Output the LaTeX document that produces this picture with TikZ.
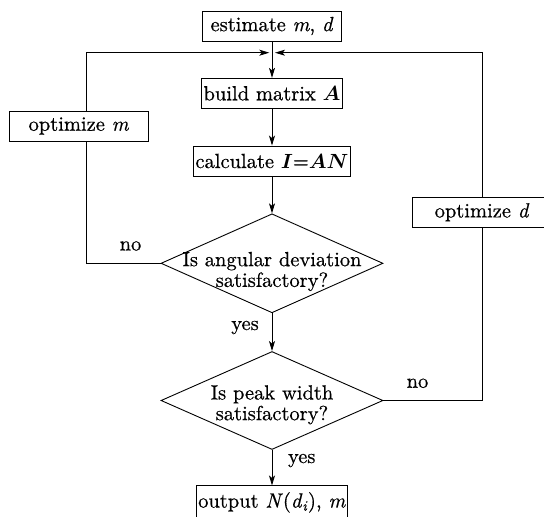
\RequirePackage{fix-cm}
\documentclass[tikz,border=0pt]{standalone}
\usepackage{bm}
\usepackage{fontspec}
\setmainfont{lmroman10-regular.otf}[FakeBold=0.6,ItalicFont=lmroman10-italic.otf,ItalicFeatures={FakeBold=0.6}]
\newcommand{\vr}[1]{\textit{#1}}
\usetikzlibrary{shapes.geometric,arrows.meta}
\begin{document}
\begin{tikzpicture}[x=1pt,y=-1pt,
    line width=0.9pt,
    every node/.style={font=\fontsize{20.5}{20.7}\selectfont},
    box/.style={draw,minimum width=139pt,minimum height=30pt,inner xsep=2pt,inner ysep=0pt},
    dia/.style={draw,diamond,minimum width=222pt,minimum height=99pt,inner sep=0pt},
    dtext/.style={align=center,inner sep=0pt},
    >={Stealth[length=10pt,width=6pt,inset=2.5pt]}]
      \useasboundingbox (0,0) rectangle (544,517);
      \draw
        (272,26) node[box] (est){estimate \vr{m}, \vr{d}}
        (272,93.3) node[box] (build){build matrix $\bm{A}$}
        (272,161) node[box,minimum width=153pt] (calc){calculate $\bm{I}$=$\bm{AN}$}
        (272,263.3) node[dia] (dia1){}
        (272,400.5) node[dia,minimum height=98pt] (dia2){}
        (272,502.4) node[box,minimum width=0pt,minimum height=33pt] (out){output \vr{N}(\vr{d}\textsubscript{\vr{i}}), \vr{m}}
        (78.8,126) node[box] (optm){optimize \vr{m}}
        (482,212.3) node[box] (optd){optimize \vr{d}};
      \draw
        (272,271.5) node[dtext] (dia1t){Is angular deviation\\satisfactory?}
        (272,404.8) node[dtext] (dia2t){Is peak width\\satisfactory?}
        (130.5,246) node (no1){no}
        (245,327.5) node (yes1){yes}
        (417.5,383.3) node (no2){no}
        (301.7,460.5) node (yes2){yes};
      \coordinate (lx) at (86,52.7);
      \coordinate (jl) at (269.3,52.7);
      \coordinate (jr) at (275,52.7);
      \begin{scope}[->]
        \draw (est) to (build);
        \draw (build) to (calc);
        \draw (calc) to (dia1);
        \draw (dia1) to (dia2);
        \draw (dia2) to (out);
        \draw (optm.north -| lx) |- (jl);
        \draw (optd.north) |- (jr);
      \end{scope}
      \begin{scope}[-]
        \draw (dia1.west) -| (optm.south -| lx);
        \draw (dia2.east) -| (optd.south);
      \end{scope}
    \end{tikzpicture}
\end{document}
